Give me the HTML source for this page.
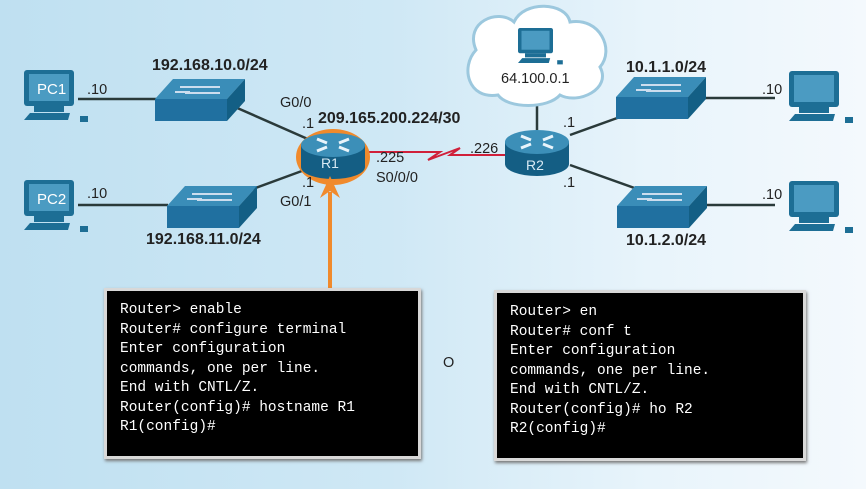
<!DOCTYPE html>
<html><head><style>
body{margin:0;width:866px;height:489px;overflow:hidden;background:linear-gradient(90deg,#bfe0f1 0%,#cfe8f5 45%,#e8f4fb 75%,#f4f9fd 100%);font-family:"Liberation Sans",sans-serif}
.term{position:absolute;background:#000;border:3px solid #d8d8d8;box-shadow:1px 2px 3px #777;color:#fff;font-family:"Liberation Mono",monospace;font-size:14.5px;line-height:19.5px;padding:10px 0 0 13px;box-sizing:border-box;white-space:pre}
</style></head><body>
<svg width="866" height="489" style="position:absolute;left:0;top:0">
<defs>
<g id="pc"><rect x="0" y="0" width="50" height="36" rx="3" fill="#1d6e95"/><rect x="5" y="4" width="40" height="27" fill="#4b9bc2"/><rect x="10" y="36" width="30" height="6" fill="#1d6e95"/><polygon points="0,50 6,43 46,43 44,50" fill="#1d6e95"/><rect x="56" y="46" width="8" height="6" fill="#1d6e95"/></g>
<g id="sw"><polygon points="0,20 18,0 90,0 72,20" fill="#3a8db8"/><polygon points="72,20 90,0 90,22 72,42" fill="#135f85"/><rect x="0" y="20" width="72" height="22" fill="#2070a0"/><path d="M25,8h40M30,14h35M20,13h15" stroke="#cde" stroke-width="2"/></g>
<g id="rt"><rect x="-32" y="-6" width="64" height="22" fill="#145e84"/><ellipse cx="0" cy="16" rx="32" ry="12" fill="#145e84"/><ellipse cx="0" cy="-6" rx="32" ry="12" fill="#3c8fb8"/><path d="M-16,-12l10,4M16,-12l-10,4M-16,0l10,-4M16,0l-10,-4" stroke="#e8f4fb" stroke-width="3"/></g>
</defs>
<g stroke="#2a3a3a" stroke-width="2.5">
<line x1="78" y1="99" x2="158" y2="99"/><line x1="78" y1="205" x2="168" y2="205"/>
<line x1="235" y1="107" x2="310" y2="140"/><line x1="250" y1="190" x2="310" y2="168"/>
<line x1="537" y1="100" x2="537" y2="130"/><line x1="570" y1="135" x2="620" y2="117"/><line x1="570" y1="165" x2="640" y2="190"/>
<line x1="700" y1="98" x2="775" y2="98"/><line x1="700" y1="205" x2="775" y2="205"/>
</g>
<polyline points="368,152 440,152 428,160 460,148 450,155 505,155" fill="none" stroke="#d0203a" stroke-width="2"/>
<path d="M476,50c-12,-28 22,-42 38,-28c10,-22 52,-20 56,0c30,-5 45,28 30,45c12,22 -22,38 -40,28c-12,14 -52,14 -62,0c-30,5 -38,-28 -22,-45z" fill="#fff" stroke="#9cc8de" stroke-width="3"/>
<use href="#pc" x="24" y="70"/><use href="#pc" x="24" y="180"/>
<use href="#pc" x="789" y="71"/><use href="#pc" x="789" y="181"/>
<g transform="translate(518,28) scale(0.7)"><use href="#pc"/></g>
<use href="#sw" x="155" y="79"/><use href="#sw" x="167" y="186"/>
<use href="#sw" x="616" y="77"/><use href="#sw" x="617" y="186"/>
<ellipse cx="333" cy="157" rx="37" ry="28" fill="#f08a2c"/>
<g transform="translate(333,151)"><use href="#rt"/></g>
<g transform="translate(537,148)"><use href="#rt"/></g>
<text x="321" y="168" fill="#d8eaf4" font-size="14">R1</text><text x="526" y="170" fill="#d8eaf4" font-size="14">R2</text>
<line x1="330" y1="290" x2="330" y2="192" stroke="#f08a2c" stroke-width="4"/>
<polygon points="320,198 330,176 340,198 330,191" fill="#f08a2c"/>
<g font-size="15" fill="#fff"><text x="37" y="94">PC1</text><text x="37" y="204">PC2</text></g>
<g font-size="16" font-weight="bold" fill="#222"><text x="152" y="70">192.168.10.0/24</text><text x="146" y="244">192.168.11.0/24</text><text x="318" y="123">209.165.200.224/30</text><text x="626" y="72">10.1.1.0/24</text><text x="626" y="245">10.1.2.0/24</text></g>
<g font-size="14.5" fill="#222"><text x="87" y="94">.10</text><text x="87" y="198">.10</text><text x="280" y="107">G0/0</text><text x="302" y="128">.1</text><text x="302" y="187">.1</text><text x="280" y="206">G0/1</text><text x="376" y="162">.225</text><text x="376" y="182">S0/0/0</text><text x="470" y="153">.226</text><text x="563" y="127">.1</text><text x="563" y="187">.1</text><text x="762" y="94">.10</text><text x="762" y="199">.10</text><text x="501" y="83">64.100.0.1</text><text x="443" y="367">O</text></g>
</svg>
<div class="term" style="left:104px;top:288px;width:317px;height:171px">Router> enable
Router# configure terminal
Enter configuration
commands, one per line.
End with CNTL/Z.
Router(config)# hostname R1
R1(config)#</div>
<div class="term" style="left:494px;top:290px;width:312px;height:171px">Router> en
Router# conf t
Enter configuration
commands, one per line.
End with CNTL/Z.
Router(config)# ho R2
R2(config)#</div>
</body></html>
